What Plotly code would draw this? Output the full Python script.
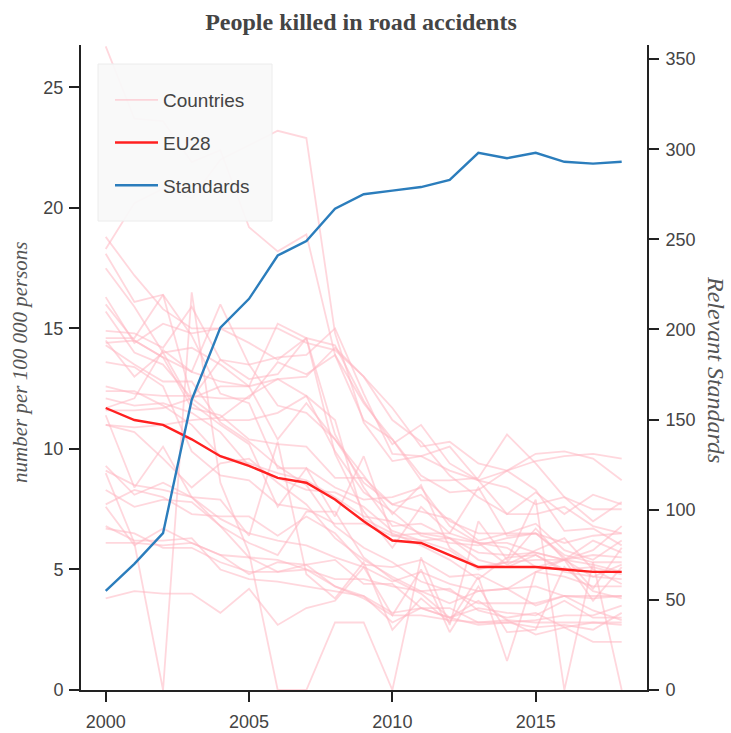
import plotly.graph_objects as go

years = list(range(2000, 2019))

# Road deaths per 100 000 inhabitants, one series per country
countries = {
    "Belgium":       [14.4, 14.5, 13.8, 11.7, 11.4, 10.4, 10.2, 10.1, 8.8, 8.8, 7.7, 8.1, 7.0, 6.5, 6.5, 6.5, 5.6, 5.3, 5.3],
    "Bulgaria":      [12.6, 12.3, 12.2, 12.2, 12.1, 12.1, 13.6, 13.1, 13.9, 11.9, 10.4, 8.9, 8.2, 8.3, 9.1, 9.8, 9.9, 9.6, 8.7],
    "Czechia":       [14.5, 13.0, 14.0, 14.2, 13.5, 12.6, 10.4, 11.9, 10.4, 8.6, 7.7, 7.4, 7.1, 6.2, 6.5, 6.9, 5.8, 5.4, 6.2],
    "Denmark":       [9.3, 8.1, 8.6, 8.0, 6.8, 6.1, 5.6, 7.4, 7.4, 5.5, 4.6, 4.0, 3.0, 3.4, 3.2, 3.1, 3.7, 3.0, 3.0],
    "Germany":       [9.1, 8.5, 8.3, 8.0, 7.1, 6.5, 6.2, 6.0, 5.5, 5.1, 4.5, 4.9, 4.4, 4.1, 4.2, 4.3, 3.9, 3.8, 3.9],
    "Estonia":       [14.6, 14.6, 16.4, 12.1, 12.6, 12.6, 15.2, 14.6, 9.8, 7.4, 5.9, 7.6, 6.5, 6.1, 5.9, 5.1, 5.4, 3.7, 5.1],
    "Ireland":       [11.0, 10.7, 9.6, 8.4, 9.4, 9.6, 8.6, 7.7, 6.3, 5.4, 4.7, 4.1, 3.6, 4.1, 4.2, 3.5, 3.9, 3.3, 2.9],
    "Greece":        [18.8, 17.2, 15.8, 15.0, 15.0, 15.0, 15.0, 14.4, 14.1, 13.0, 11.2, 10.3, 8.9, 8.0, 7.3, 7.3, 7.6, 6.8, 6.5],
    "Spain":         [14.3, 13.5, 12.8, 12.8, 11.1, 10.3, 9.3, 8.5, 6.8, 5.9, 5.3, 4.5, 4.1, 3.6, 3.6, 3.6, 3.9, 3.9, 3.9],
    "France":        [13.6, 13.4, 12.6, 9.9, 8.9, 8.7, 7.7, 7.5, 6.9, 6.9, 6.4, 6.2, 5.8, 5.0, 5.3, 5.4, 5.4, 5.2, 4.9],
    "Croatia":       [14.9, 14.8, 14.2, 15.9, 13.7, 13.5, 13.8, 13.9, 15.0, 12.3, 9.8, 9.7, 9.1, 8.7, 7.3, 8.2, 7.3, 8.1, 7.7],
    "Italy":         [12.4, 12.4, 11.8, 11.0, 9.7, 9.4, 9.0, 8.7, 8.0, 7.2, 7.0, 6.5, 6.3, 5.7, 5.6, 5.7, 5.4, 5.6, 5.5],
    "Cyprus":        [16.0, 14.5, 13.8, 13.2, 16.0, 13.5, 11.8, 11.5, 10.4, 8.9, 7.3, 8.5, 5.9, 5.1, 5.3, 6.7, 5.4, 6.2, 5.7],
    "Latvia":        [26.7, 23.7, 23.6, 21.9, 22.4, 19.2, 18.2, 18.9, 13.9, 11.2, 10.4, 8.7, 8.7, 8.8, 10.6, 9.4, 8.0, 7.0, 7.8],
    "Lithuania":     [18.3, 20.2, 20.8, 20.4, 22.0, 22.6, 23.2, 22.9, 14.8, 11.1, 9.5, 9.7, 10.1, 8.7, 9.1, 8.3, 6.6, 6.7, 6.0],
    "Luxembourg":    [17.5, 15.9, 14.0, 11.9, 11.0, 10.2, 7.6, 9.2, 7.2, 9.7, 6.4, 6.5, 6.5, 8.4, 6.4, 6.5, 5.5, 4.2, 5.9],
    "Hungary":       [11.7, 12.1, 14.1, 13.2, 12.8, 12.6, 12.9, 12.2, 9.9, 8.2, 7.4, 6.4, 6.1, 6.0, 6.3, 6.5, 6.1, 6.4, 6.5],
    "Malta":         [3.8, 4.1, 4.0, 4.0, 3.2, 4.2, 2.7, 3.4, 3.7, 5.1, 3.1, 5.0, 2.4, 4.3, 2.4, 2.5, 5.1, 4.1, 3.8],
    "Netherlands":   [6.8, 6.2, 6.2, 6.3, 5.0, 4.6, 4.5, 4.3, 4.1, 3.9, 3.2, 3.4, 3.4, 2.8, 2.8, 2.9, 3.1, 3.1, 3.5],
    "Austria":       [12.1, 11.8, 11.9, 11.5, 10.7, 9.3, 8.8, 8.3, 8.2, 7.6, 6.6, 6.2, 6.3, 5.4, 5.1, 5.6, 4.9, 4.7, 4.6],
    "Poland":        [16.3, 14.4, 15.2, 14.8, 15.0, 14.4, 13.7, 14.6, 14.3, 12.0, 10.2, 11.0, 9.4, 8.7, 8.4, 7.7, 8.0, 7.5, 7.5],
    "Portugal":      [18.1, 16.1, 16.4, 14.7, 12.3, 11.9, 9.2, 9.2, 8.4, 7.9, 8.0, 8.4, 6.8, 6.1, 6.1, 5.7, 5.4, 5.8, 6.8],
    "Romania":       [11.0, 10.9, 11.0, 11.2, 11.3, 12.2, 12.9, 13.0, 14.2, 13.0, 11.7, 10.1, 10.3, 9.4, 9.1, 9.5, 9.7, 9.8, 9.6],
    "Slovenia":      [15.7, 14.0, 13.5, 12.1, 13.7, 12.9, 13.1, 14.6, 10.6, 8.4, 6.8, 6.9, 6.3, 6.1, 5.2, 5.8, 6.3, 5.0, 4.4],
    "Slovakia":      [11.6, 11.6, 11.7, 12.1, 11.2, 11.2, 11.5, 12.2, 11.2, 7.1, 6.5, 6.0, 5.4, 4.6, 5.5, 5.6, 5.0, 5.1, 4.8],
    "Finland":       [7.7, 8.3, 8.0, 7.3, 7.2, 7.2, 6.4, 7.2, 6.5, 5.2, 5.1, 5.4, 4.7, 4.8, 4.2, 4.9, 4.7, 4.3, 4.3],
    "Sweden":        [6.7, 6.5, 5.9, 5.9, 5.3, 4.9, 4.9, 5.2, 4.3, 3.9, 2.8, 3.4, 3.0, 2.7, 2.8, 2.6, 2.7, 2.5, 3.2],
    "United Kingdom":[6.1, 6.1, 6.0, 6.1, 5.6, 5.5, 5.4, 5.0, 4.3, 3.8, 3.1, 3.1, 2.9, 2.8, 2.9, 2.8, 2.8, 2.8, 2.8],
    "Norway":        [7.6, 6.0, 6.7, 6.1, 5.6, 4.8, 5.3, 5.2, 5.4, 4.4, 4.4, 3.4, 3.0, 3.7, 2.9, 2.3, 2.6, 2.0, 2.0],
    "Switzerland":   [8.3, 7.6, 7.9, 7.8, 6.8, 5.5, 4.9, 5.0, 4.6, 4.6, 4.3, 4.1, 4.2, 3.3, 3.0, 3.2, 2.6, 2.8, 2.7],
    "Iceland":       [11.4, 8.4, 10.1, 8.0, 7.9, 6.4, 10.3, 4.8, 3.8, 5.3, 2.5, 3.8, 2.8, 4.7, 1.2, 4.9, 5.4, 4.7, 5.2],
    "Liechtenstein": [9.0, 6.1, 0.0, 16.5, 8.6, 5.7, 0.0, 0.0, 2.8, 2.8, 0.0, 5.5, 2.7, 7.0, 5.4, 7.9, 0.0, 5.3, 0.0],
}

eu28 = [11.7, 11.2, 11.0, 10.4, 9.7, 9.3, 8.8, 8.6, 7.9, 7.0, 6.2, 6.1, 5.6, 5.1, 5.1, 5.1, 5.0, 4.9, 4.9]

standards = [55, 70, 87, 161, 201, 217, 241, 249, 267, 275, 277, 279, 283, 298, 295, 298, 293, 292, 293]

left_ticks = [0, 5, 10, 15, 20, 25]
right_ticks = [0, 50, 100, 150, 200, 250, 300, 350]
x_ticks = [2000, 2005, 2010, 2015]

X_RANGE = [1999.138, 2018.883]
Y_RANGE = [0, 26.76]
Y2_RANGE = [0, 357.8]

PINK = "rgba(255,182,193,0.55)"
RED = "#ff2020"
BLUE = "#2b7dbc"
AXIS = "#222222"
TXT = "#444444"
SANS = "Liberation Sans, Arial, sans-serif"
SERIF = "Liberation Serif, Times New Roman, serif"

W, H = 731, 733
L, R, T, B = 81, 84, 45, 43
PW, PH = W - L - R, H - T - B


def px_x(px):
    return (px - L) / PW


def px_y(py):
    return (H - B - py) / PH


fig = go.Figure()

for i, (name, vals) in enumerate(countries.items()):
    fig.add_trace(go.Scatter(
        x=years, y=vals, mode="lines", name="Countries",
        legendgroup="countries", showlegend=(i == 0),
        line=dict(color=PINK, width=1.8), hoverinfo="skip",
    ))

fig.add_trace(go.Scatter(
    x=years, y=eu28, mode="lines", name="EU28", legendgroup="eu28",
    line=dict(color=RED, width=2.4),
))

fig.add_trace(go.Scatter(
    x=years, y=standards, mode="lines", name="Standards", legendgroup="std",
    yaxis="y2", line=dict(color=BLUE, width=2.4),
))

tick_font = dict(family=SANS, size=18, color=TXT)
axis_common = dict(
    showgrid=False, zeroline=False, showline=True, linecolor=AXIS, linewidth=2,
    ticks="outside", ticklen=10, tickwidth=2, tickcolor=AXIS,
    tickfont=tick_font, automargin=False,
)
# short inner stubs so every tick mark crosses its axis line
stub = dict(
    showgrid=False, zeroline=False, showline=False, ticks="inside", ticklen=3,
    tickwidth=2, tickcolor=AXIS, showticklabels=False, automargin=False,
)

fig.update_layout(
    width=W, height=H,
    margin=dict(l=L, r=R, t=T, b=B),
    plot_bgcolor="white", paper_bgcolor="white",
    title=dict(
        text="<b>People killed in road accidents</b>",
        font=dict(family=SERIF, size=24, color=TXT),
        x=361 / W, xref="container", xanchor="center",
        y=1 - 22 / H, yref="container", yanchor="middle",
    ),
    xaxis=dict(range=X_RANGE, tickvals=x_ticks, ticklabelstandoff=4, **axis_common),
    yaxis=dict(range=Y_RANGE, tickvals=left_ticks, ticklabelstandoff=2, **axis_common),
    yaxis2=dict(range=Y2_RANGE, tickvals=right_ticks, overlaying="y", side="right",
                ticklabelstandoff=3, **axis_common),
    xaxis2=dict(range=X_RANGE, tickvals=x_ticks, overlaying="x", anchor="y", **stub),
    yaxis3=dict(range=Y_RANGE, tickvals=left_ticks, overlaying="y", side="left", **stub),
    yaxis4=dict(range=Y2_RANGE, tickvals=right_ticks, overlaying="y", side="right", **stub),
    legend=dict(
        x=px_x(100), y=px_y(81), xanchor="left", yanchor="top",
        bgcolor="rgba(0,0,0,0)", borderwidth=0,
        font=dict(family=SANS, size=19, color=TXT),
        traceorder="grouped", tracegroupgap=15, indentation=10, itemwidth=43,
    ),
    shapes=[dict(
        type="rect", xref="paper", yref="paper", layer="above",
        x0=px_x(98), x1=px_x(272), y0=px_y(221), y1=px_y(64),
        fillcolor="rgba(249,249,249,0.93)", line=dict(color="#ececec", width=1),
    )],
    annotations=[
        dict(text="<i>number per 100 000 persons</i>", xref="paper", yref="paper",
             x=px_x(20), y=px_y(362), xanchor="center", yanchor="middle",
             textangle=-90, showarrow=False, font=dict(family=SERIF, size=21, color="#555555")),
        dict(text="<i>Relevant Standards</i>", xref="paper", yref="paper",
             x=px_x(716), y=px_y(369), xanchor="center", yanchor="middle",
             textangle=90, showarrow=False, font=dict(family=SERIF, size=24, color="#555555")),
    ],
)

fig.write_html("out.html")
